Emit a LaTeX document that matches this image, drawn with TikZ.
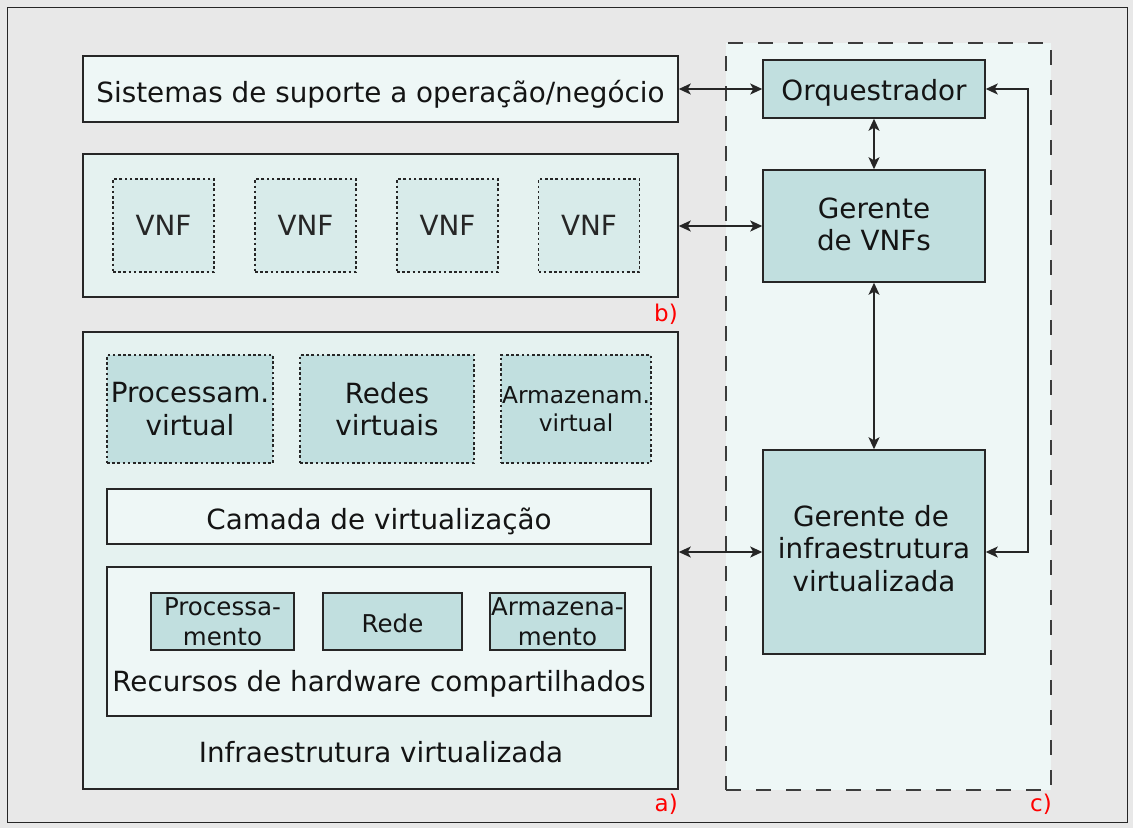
\documentclass[tikz,border=0pt]{standalone}
\usepackage{fontspec}
\setmainfont{DejaVu Sans}
\usetikzlibrary{arrows.meta}
\definecolor{bgc}{HTML}{E8E8E8}
\definecolor{lightf}{HTML}{EEF7F6}
\definecolor{contf}{HTML}{E5F2F0}
\definecolor{vnff}{HTML}{D8EBEA}
\definecolor{tealf}{HTML}{C1DFDF}
\definecolor{linec}{HTML}{262626}
\tikzset{
  box/.style={draw=linec, line width=1.5pt, inner sep=0pt, align=center, text=black!92},
  big/.style={font=\fontsize{27.8}{32.5}\selectfont},
  small/.style={font=\fontsize{24.5}{29.5}\selectfont},
  smaller/.style={font=\fontsize{23.3}{28.5}\selectfont},
  oneline/.style={text height=#1, text depth=0pt},
  dotbox/.style={box, dash pattern=on 2.6pt off 2.6pt},
  lab/.style={text=red, font=\fontsize{23}{28}\selectfont, inner sep=0pt},
  arr/.style={draw=linec, line width=1.5pt, {Stealth[length=12pt,width=11pt,inset=3pt]}-{Stealth[length=12pt,width=11pt,inset=3pt]}},
}
\begin{document}
\begin{tikzpicture}[x=1pt,y=-1pt]
\useasboundingbox (0,0) rectangle (1133,828);
\fill[bgc] (0,0) rectangle (1133,828);
\node[draw=linec, line width=1pt, minimum width=1120, minimum height=815, inner sep=0pt] (frame) at (567,414.5) {};
% dashed container c
\node[draw=linec!90, fill=lightf, line width=2pt, dash pattern=on 15pt off 15pt, minimum width=325, minimum height=747, inner sep=0pt] (mano) at (888.5,416.5) {};
% left column
\node[box, big, oneline=26pt, fill=lightf, minimum width=595, minimum height=66] (sis) at (380.5,89) {Sistemas de suporte a operação/negócio};
\node[box, fill=contf, minimum width=595, minimum height=143] (vnfc) at (380.5,225.5) {};
\node[dotbox, big, fill=vnff, minimum width=101, minimum height=93, text=black!85] (v1) at (163.5,225.5) {VNF};
\node[dotbox, big, fill=vnff, minimum width=101, minimum height=93, text=black!85] (v2) at (305.5,225.5) {VNF};
\node[dotbox, big, fill=vnff, minimum width=101, minimum height=93, text=black!85] (v3) at (447.5,225.5) {VNF};
\node[dotbox, big, fill=vnff, minimum width=101, minimum height=93, text=black!85] (v4) at (589,225.5) {VNF};
\node[lab, anchor=base east] (lb) at (678,321) {b)};
\node[box, fill=contf, minimum width=595, minimum height=457] (infra) at (380.5,560.5) {};
\node[dotbox, big, fill=tealf, minimum width=166, minimum height=108] (pv) at (190,409) {Processam.\\virtual};
\node[dotbox, big, fill=tealf, minimum width=174, minimum height=108] (rv) at (387,409) {Redes\\virtuais};
\node[dotbox, smaller, fill=tealf, minimum width=150, minimum height=108] (av) at (576,409) {Armazenam.\\virtual};
\node[box, big, oneline=26pt, fill=lightf, minimum width=544, minimum height=55] (cam) at (379,516.5) {Camada de virtualização};
\node[box, fill=lightf, minimum width=544, minimum height=149] (rec) at (379,641.5) {};
\node[box, small, fill=tealf, minimum width=143, minimum height=57] (hp) at (222.5,621.5) {Processa-\\mento};
\node[box, small, oneline=21pt, fill=tealf, minimum width=139, minimum height=57] (hr) at (392.5,621.5) {Rede};
\node[box, small, fill=tealf, minimum width=135, minimum height=57] (ha) at (557.5,621.5) {Armazena-\\mento};
\node[big, inner sep=0pt, anchor=base, text=black!92] (rect) at (379,691) {Recursos de hardware compartilhados};
\node[big, inner sep=0pt, anchor=base, text=black!92] (inft) at (381,762) {Infraestrutura virtualizada};
\node[lab, anchor=base east] (la) at (678,811) {a)};
% right column
\node[box, big, oneline=23pt, fill=tealf, minimum width=222, minimum height=58] (orq) at (874,89) {Orquestrador};
\node[box, big, fill=tealf, minimum width=222, minimum height=112] (gvnf) at (874,226) {Gerente\\de VNFs\rule[-4pt]{0pt}{0pt}};
\node[box, big, fill=tealf, minimum width=222, minimum height=204] (ginf) at (874,552) {Gerente de\kern6pt\\infraestrutura\\virtualizada\rule[-8pt]{0pt}{0pt}};
\node[lab, anchor=base east] (lc) at (1052,811) {c)};
% connectors
\draw[arr] (sis.east) -- (orq.west);
\draw[arr] (vnfc.east |- gvnf.west) -- (gvnf.west);
\draw[arr] (infra.east |- ginf.west) -- (ginf.west);
\draw[arr] (orq.south) -- (gvnf.north);
\draw[arr] (gvnf.south) -- (ginf.north);
\draw[arr] (orq.east) -- ++(42,0) |- (ginf.east);
\end{tikzpicture}
\end{document}
